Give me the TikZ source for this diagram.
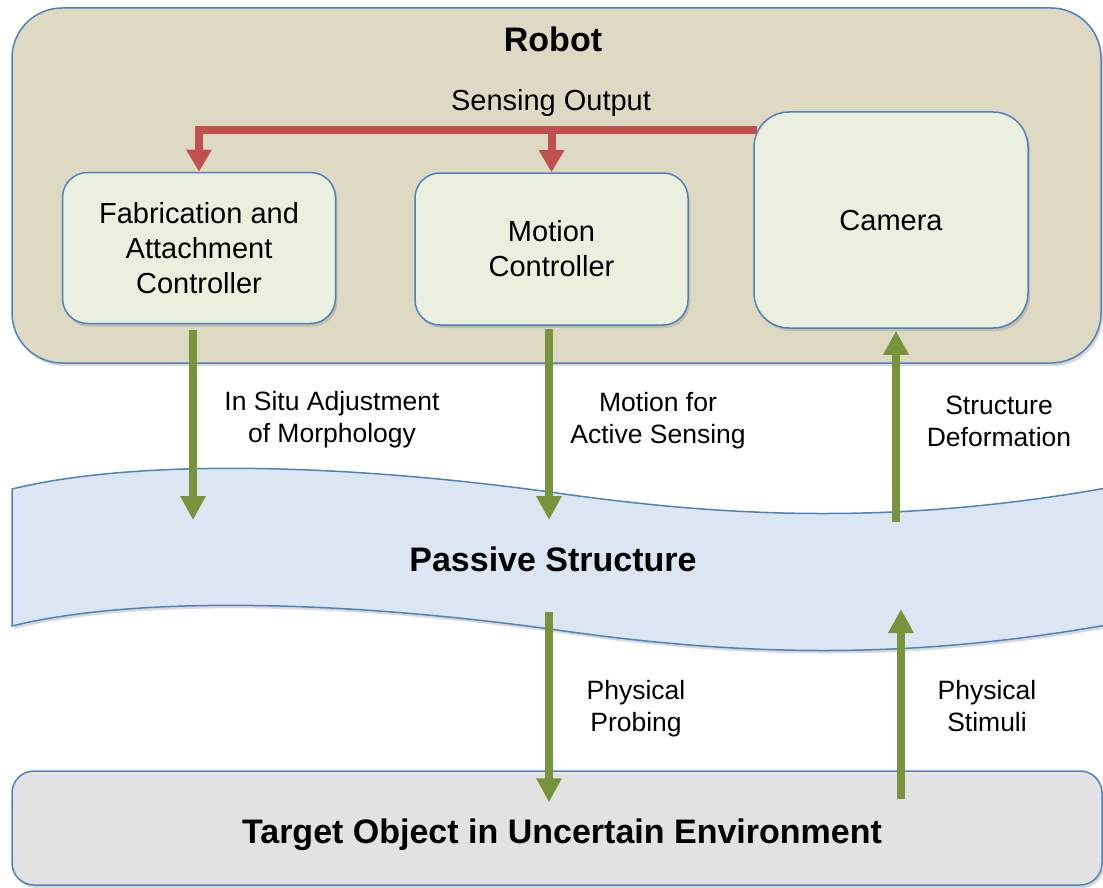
\documentclass[tikz,border=0pt]{standalone}
\usepackage{fontspec}
\setmainfont{Liberation Sans}
\usetikzlibrary{arrows.meta}
\usetikzlibrary{shadows}
\usetikzlibrary{calc}
\definecolor{edgeblue}{HTML}{4F81BD}
\definecolor{robottan}{HTML}{DDD9C3}
\definecolor{boxgreen}{HTML}{EBF0DE}
\definecolor{bandblue}{HTML}{DCE6F2}
\definecolor{targetgray}{HTML}{E2E2E2}
\definecolor{sensered}{HTML}{C0504D}
\definecolor{actgreen}{HTML}{77933C}

\begin{document}
\begin{tikzpicture}[x=1pt,y=-1pt]
	\tikzstyle{boxshadow}=[drop shadow={shadow xshift=2pt,shadow yshift=-3pt,opacity=0.3}]
	\tikzstyle{robotbox}=[rectangle,rounded corners=50pt,draw=edgeblue,line width=1.5pt,fill=robottan,boxshadow,minimum width=1089pt,minimum height=355pt]
	\tikzstyle{ctrlbox}=[rectangle,rounded corners=25pt,draw=edgeblue,line width=1.5pt,fill=boxgreen,boxshadow,align=center,font=\fontsize{29}{35}\selectfont,minimum width=273pt,minimum height=151pt]
	\tikzstyle{targetbox}=[rectangle,rounded corners=22pt,draw=edgeblue,line width=1.5pt,fill=targetgray,boxshadow,minimum width=1090pt,minimum height=114pt]
	\tikzstyle{band}=[draw=edgeblue,line width=1.5pt,fill=bandblue,boxshadow]
	\tikzstyle{title}=[anchor=base,font=\fontsize{34}{40}\selectfont\bfseries]
	\tikzstyle{lbl}=[align=center,font=\fontsize{26.5}{32}\selectfont]
	\tikzstyle{sensing}=[draw=sensered,line width=8pt,-{Triangle[width=24pt,length=22pt]}]
	\tikzstyle{acting}=[draw=actgreen,line width=8pt,-{Triangle[width=24pt,length=24pt]}]
	\useasboundingbox (0,0) rectangle (1103,888);
	\clip (0,0) rectangle (1103,888);

	\node[robotbox] (robot) at (556.5,185.5) {};
	\node[title] (robottitle) at (553,52) {Robot};
	\node[anchor=base,font=\fontsize{29}{35}\selectfont] (senselbl) at (551,111) {Sensing Output};
	\node[ctrlbox] (fab) at (199,248) {Fabrication and\\Attachment\\Controller};
	\node[ctrlbox,minimum height=152pt] (motion) at (551.5,249) {Motion\\Controller};
	\node[ctrlbox,rounded corners=35pt,minimum width=274pt,minimum height=216pt,text depth=0pt] (camera) at (891,220) {Camera};

	\coordinate (senseout) at ($(camera.north west)+(4,19)$);
	\draw[sensing] (senseout) -| (fab.north);
	\draw[sensing] (senseout -| motion.north) -- (motion.north);

	\path[band] (12,489) .. controls (130,460) and (330,462) .. (550,492)
		.. controls (730,518) and (900,525) .. (1112,487) -- (1112,624)
		.. controls (900,662) and (730,655) .. (550,629)
		.. controls (330,599) and (130,597) .. (12,626) -- cycle;
	\node[title] (passive) at (553,571) {Passive Structure};

	\node[targetbox] (target) at (557,828) {};
	\node[title] (targettitle) at (562,843) {Target Object in Uncertain Environment};

	\coordinate (adjustend) at (193,520);
	\coordinate (motionend) at (549,520);
	\coordinate (deformstart) at (896,522);
	\coordinate (probestart) at (549,612);
	\coordinate (stimend) at (901,609);
	\draw[acting] ([xshift=-6pt,yshift=-6pt]fab.south) -- (adjustend);
	\draw[acting] ([xshift=-2.5pt,yshift=-3pt]motion.south) -- (motionend);
	\draw[acting] (deformstart) -- ([xshift=5pt,yshift=-2pt]camera.south);
	\draw[acting] (probestart) -- ([xshift=-8pt,yshift=-32pt]target.north);
	\draw[acting] ([xshift=344pt,yshift=-29pt]target.north) -- (stimend);

	\node[lbl] (adjustlbl) at (332,420) {In Situ Adjustment\\of Morphology};
	\node[lbl] (activelbl) at (658,421) {Motion for\\Active Sensing};
	\node[lbl] (deformlbl) at (999,421) {Structure\\Deformation};
	\node[lbl] (probelbl) at (636,709) {Physical\\Probing};
	\node[lbl] (stimlbl) at (987,706) {Physical\\Stimuli};
\end{tikzpicture}
\end{document}
